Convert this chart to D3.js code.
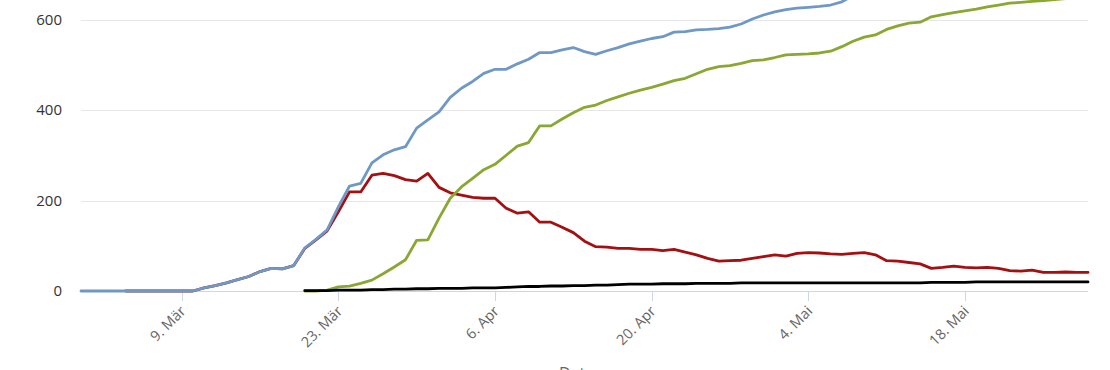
<!DOCTYPE html>
<html><head><meta charset="utf-8">
<script src="https://cdn.jsdelivr.net/npm/d3@7/dist/d3.min.js"></script>
<style>
html,body{margin:0;padding:0;background:#fff;overflow:hidden;}
svg{display:block;font-family:"Open Sans",sans-serif;}
</style></head>
<body>
<svg id="chart" width="1110" height="370"></svg>
<script>
// Dates (daily), 29 Feb 2020 – 29 May 2020
const dates = [
"2020-02-29","2020-03-01","2020-03-02","2020-03-03","2020-03-04","2020-03-05","2020-03-06","2020-03-07","2020-03-08","2020-03-09",
"2020-03-10","2020-03-11","2020-03-12","2020-03-13","2020-03-14","2020-03-15","2020-03-16","2020-03-17","2020-03-18","2020-03-19",
"2020-03-20","2020-03-21","2020-03-22","2020-03-23","2020-03-24","2020-03-25","2020-03-26","2020-03-27","2020-03-28","2020-03-29",
"2020-03-30","2020-03-31","2020-04-01","2020-04-02","2020-04-03","2020-04-04","2020-04-05","2020-04-06","2020-04-07","2020-04-08",
"2020-04-09","2020-04-10","2020-04-11","2020-04-12","2020-04-13","2020-04-14","2020-04-15","2020-04-16","2020-04-17","2020-04-18",
"2020-04-19","2020-04-20","2020-04-21","2020-04-22","2020-04-23","2020-04-24","2020-04-25","2020-04-26","2020-04-27","2020-04-28",
"2020-04-29","2020-04-30","2020-05-01","2020-05-02","2020-05-03","2020-05-04","2020-05-05","2020-05-06","2020-05-07","2020-05-08",
"2020-05-09","2020-05-10","2020-05-11","2020-05-12","2020-05-13","2020-05-14","2020-05-15","2020-05-16","2020-05-17","2020-05-18",
"2020-05-19","2020-05-20","2020-05-21","2020-05-22","2020-05-23","2020-05-24","2020-05-25","2020-05-26","2020-05-27","2020-05-28",
"2020-05-29"];

// Total cases (blue)
const total = [
0,0,0,0,0,0,0,0,0,0,
0,7,12,18,25,32,43,50,49,56,
95,114,135,186,232,238,283,301,312,319,
360,378,396,428,448,463,481,490,490,502,
512,527,527,533,538,529,523,531,538,546,
552,558,562,572,573,577,578,580,583,590,
601,610,617,622,625,627,629,632,639,653,
664,664,663,670,673,672,675,682,689,690,
694,700,702,701,702,706,703,705,708,709,
711];

// Active cases (red)
const active = [
null,null,null,null,0,0,0,0,0,0,
0,7,12,18,25,32,43,50,49,56,
94,113,133,175,219,219,256,260,255,246,
243,260,229,217,212,207,205,205,183,172,
175,152,152,141,129,110,98,97,94,94,
92,92,89,92,86,80,72,66,67,68,
72,76,80,77,83,85,84,82,81,83,
85,80,67,66,63,60,50,52,55,52,
51,52,50,45,44,46,41,41,42,41,
41];

// Recovered (green)
const recovered = [
null,null,null,null,null,null,null,null,null,null,
null,null,null,null,null,null,null,null,null,null,
0,0,2,9,11,17,24,38,53,69,
112,113,161,205,230,249,268,280,300,320,
328,365,365,380,394,406,411,421,429,437,
444,450,457,465,470,480,490,496,498,503,
509,511,516,522,523,524,526,530,540,552,
561,566,578,586,592,594,606,611,615,619,
623,628,632,636,638,640,642,644,646,648,
650];

// Deaths (black)
const deaths = [
null,null,null,null,null,null,null,null,null,null,
null,null,null,null,null,null,null,null,null,null,
1,1,1,2,2,2,3,3,4,4,
5,5,6,6,6,7,7,7,8,9,
10,10,11,11,12,12,13,13,14,15,
15,15,16,16,16,17,17,17,17,18,
18,18,18,18,18,18,18,18,18,18,
18,18,18,18,18,18,19,19,19,19,
20,20,20,20,20,20,20,20,20,20,
20];

const yTicks = [0, 200, 400, 600];
const xTickDates = ["2020-03-09","2020-03-23","2020-04-06","2020-04-20","2020-05-04","2020-05-18"];
const xTickLabels = ["9. Mär","23. Mär","6. Apr","20. Apr","4. Mai","18. Mai"];
const axisTitle = "Datum";

const series = [
  {name:"Aktiv", values: active, color:"#a50f12"},
  {name:"Genesen", values: recovered, color:"#8aa731"},
  {name:"Todesfälle", values: deaths, color:"#000000"},
  {name:"Gesamt", values: total, color:"#6f98c5"}
];

const parse = d3.utcParse("%Y-%m-%d");
const dt = dates.map(parse);

const left = 81, right = 1088, y0 = 291, pxPer200 = 90.5;
const x = d3.scaleUtc().domain([dt[0], dt[dt.length-1]]).range([left, right]);
const y = d3.scaleLinear().domain([0, 800]).range([y0, y0 - 4*pxPer200]);

const svg = d3.select("#chart");

// grid
svg.append("g").selectAll("line").data(yTicks.filter(t=>t>0)).join("line")
  .attr("x1", left).attr("x2", right)
  .attr("y1", d=>Math.round(y(d))+0.5).attr("y2", d=>Math.round(y(d))+0.5)
  .attr("stroke","#e6e6e6").attr("stroke-width",1);

// y labels
svg.append("g").selectAll("text").data(yTicks).join("text")
  .attr("x", 62).attr("y", d=>y(d)).attr("dy","0.35em")
  .attr("text-anchor","end").attr("font-size",15).attr("fill","#333")
  .text(d=>d);

// x axis line
svg.append("line").attr("x1",left).attr("x2",right)
  .attr("y1",Math.round(y0)+0.5).attr("y2",Math.round(y0)+0.5)
  .attr("stroke","#ccd6eb").attr("stroke-width",1);

// x ticks
const xt = xTickDates.map(parse);
svg.append("g").selectAll("line").data(xt).join("line")
  .attr("x1", d=>Math.round(x(d))+0.5).attr("x2", d=>Math.round(x(d))+0.5)
  .attr("y1", y0).attr("y2", y0+10)
  .attr("stroke","#ccd6eb").attr("stroke-width",1);

svg.append("g").selectAll("text").data(xt).join("text")
  .attr("transform", d=>`translate(${x(d)+5},${y0+21}) rotate(-45)`)
  .attr("text-anchor","end").attr("font-size",14.5).attr("fill","#666")
  .text((d,i)=>xTickLabels[i]);

svg.append("text").attr("x",(left+right)/2).attr("y",379)
  .attr("text-anchor","middle").attr("font-size",16).attr("fill","#666")
  .text(axisTitle);

// lines
const line = d3.line()
  .defined(d=>d[1]!=null)
  .x(d=>x(d[0])).y(d=>y(d[1]));

svg.append("g").selectAll("path").data(series).join("path")
  .attr("d", s=>line(dt.map((d,i)=>[d, s.values[i]])))
  .attr("fill","none").attr("stroke", s=>s.color)
  .attr("stroke-width",2.8).attr("stroke-linejoin","round").attr("stroke-linecap","round");
</script>
</body></html>
